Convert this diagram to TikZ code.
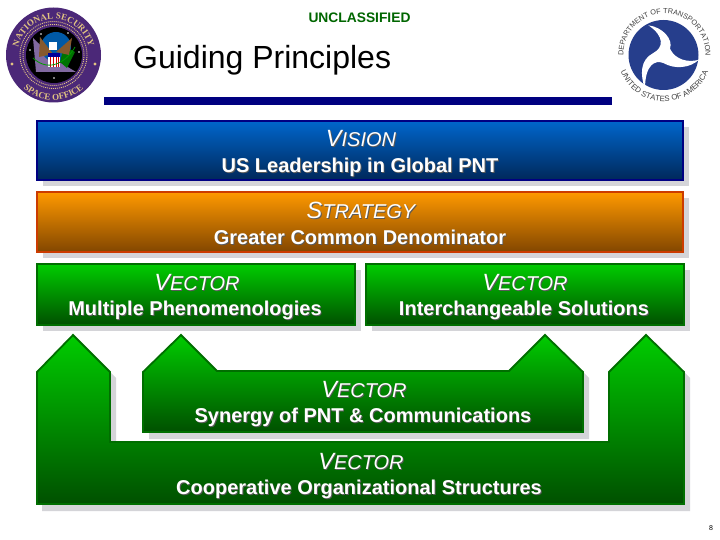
\documentclass[tikz,border=0pt]{standalone}
\usepackage{fontspec}
\setmainfont{Liberation Sans}
\newfontfamily\sealfont{Liberation Serif}
\usetikzlibrary{decorations.text}
\definecolor{bluehi}{RGB}{0,102,204}
\definecolor{bluelo}{RGB}{0,40,90}
\definecolor{blueedge}{RGB}{0,0,130}
\definecolor{orghi}{RGB}{255,153,0}
\definecolor{orglo}{RGB}{130,70,0}
\definecolor{orgedge}{RGB}{204,60,0}
\definecolor{grnhi}{RGB}{0,204,0}
\definecolor{grnlo}{RGB}{0,80,0}
\definecolor{grnedge}{RGB}{0,110,0}
\definecolor{shadowgrey}{RGB}{212,212,216}
\definecolor{barblue}{RGB}{0,0,128}
\definecolor{seal}{RGB}{75,40,120}
\definecolor{sealgold}{RGB}{225,195,130}
\definecolor{dotblue}{RGB}{38,62,140}
\newcommand{\shtxt}[1]{\leavevmode\rlap{\kern0.9pt\raisebox{-0.9pt}{\color{black!65}#1}}{\color{white}#1}}
\newcommand{\vectitle}[2]{\shtxt{\fontsize{23.5}{24}\selectfont\itshape #1\fontsize{20}{24}\selectfont #2}}
\newcommand{\vecsub}[1]{\shtxt{\fontsize{20}{22}\selectfont\bfseries #1}}
\tikzset{
  x=1pt,y=-1pt,
  bluebox/.style={top color=bluehi,bottom color=bluelo,draw=blueedge,line width=1.8pt},
  orangebox/.style={top color=orghi,bottom color=orglo,draw=orgedge,line width=1.8pt},
  greenbox/.style={top color=grnhi,bottom color=grnlo,draw=grnedge,line width=1.8pt,line join=miter},
  lab/.style={inner sep=0pt,anchor=center},
}
\begin{document}
\begin{tikzpicture}
\useasboundingbox (0,0) rectangle (720,540);
\fill[white] (0,0) rectangle (720,540);
% header
\node[lab,text=green!40!black] (cls) at (359.5,18) {\fontsize{13.8}{14}\selectfont\bfseries UNCLASSIFIED};
\node[lab,anchor=west] (title) at (133,60) {\fontsize{32}{38}\selectfont Guiding Principles};
\fill[barblue] (104,97) rectangle (612,105);
% NSSO seal
\fill[seal] (53.5,55) circle (47.5);
\draw[sealgold,line width=0.9pt,dash pattern=on 1pt off 1pt] (53.5,55) circle (33.5);
\draw[sealgold,line width=0.9pt,dash pattern=on 1pt off 1pt] (53.5,55) circle (30.5);
\fill[black] (54,55) circle (28);
\fill[seal!70!white] (33,38) -- (36,72) -- (76,72) -- (56,60) -- cycle;
\fill[teal!70!blue] (56,47) circle (15);
\fill[green!45!black] (64,46) -- (75,52) -- (67,68) -- (60,62) -- cycle;
\fill[brown!70!black] (53,54) -- (40,37) -- (39,57) -- cycle;
\fill[brown!70!black] (56,52) -- (72,38) -- (69,55) -- cycle;
\fill[white] (49,42) rectangle (57,50);
\fill[white] (48,54) rectangle (60,67);
\foreach \sx in {49.5,52.5,55.5,58} \fill[red!80!black] (\sx,56) rectangle +(1.4,11);
\fill[blue!60!black] (48,53) rectangle (60,57);
\draw[green!60!black,line width=0.8pt] (33,58) .. controls (50,74) and (68,60) .. (75,47);
\foreach \sx/\sy in {41/34,68/33,79/52,54/78,30/50} \fill[white] (\sx,\sy) circle (0.8);
\fill[sealgold] (12,64) circle (1.6);
\fill[sealgold] (95,64) circle (1.6);
\path[postaction={decorate,decoration={text along path,text align={center},
  text={|\fontsize{9}{10}\bfseries\sealfont\color{sealgold}|NATIONAL SECURITY}}}]
  (17.5,55) arc[start angle=180,end angle=360,radius=36];
\path[postaction={decorate,decoration={text along path,text align={center},
  text={|\fontsize{9}{10}\bfseries\sealfont\color{sealgold}|SPACE OFFICE}}}]
  (8.5,55) arc[start angle=180,end angle=0,radius=45];
% DOT seal
\fill[dotblue] (663.5,55) circle (35);
\fill[white] (648.3,25.3) .. controls (663.3,27.3) and (673.3,39.7) .. (670,48.7)
  .. controls (675,59.7) and (688.3,63) .. (699,59.7)
  .. controls (690,68) and (675,69.7) .. (663.3,63)
  .. controls (655,59.7) and (645,64.7) .. (645,88.7)
  .. controls (640,74.7) and (640,59.7) .. (653.3,53)
  .. controls (663.3,48) and (665,36.3) .. (648.3,25.3) -- cycle;
\path[postaction={decorate,decoration={text along path,text align={center},
  text={|\fontsize{7.3}{9}\selectfont\color{black!75}|DEPARTMENT OF TRANSPORTATION}}}]
  (623.5,54.5) arc[start angle=180,end angle=360,radius=41];
\path[postaction={decorate,decoration={text along path,text align={center},
  text={|\fontsize{7.8}{9}\selectfont\color{black!75}|UNITED STATES OF AMERICA}}}]
  (617.5,54.5) arc[start angle=180,end angle=0,radius=47];
% shadows
\fill[shadowgrey] (43,127) rectangle (689,186);
\fill[shadowgrey] (43,198) rectangle (689,258);
\fill[shadowgrey] (43,270) rectangle (361,331);
\fill[shadowgrey] (372,270) rectangle (690,331);
\fill[shadowgrey] (149,378) -- (187,340) -- (223,377) -- (515,377) -- (551,340) -- (589,378) -- (589,439) -- (149,439) -- cycle;
\fill[shadowgrey] (42,378) -- (79,340) -- (116,378) -- (116,448) -- (615,448) -- (615,378) -- (652,340) -- (690,378) -- (690,511) -- (42,511) -- cycle;
% boxes
\path[bluebox] (37,121) rectangle (683,180);
\path[orangebox] (37,192) rectangle (683,252);
\path[greenbox] (37,264) rectangle (355,325);
\path[greenbox] (366,264) rectangle (684,325);
\path[greenbox] (37,372) -- (73,335) -- (110,372) -- (110,442) -- (609,442) -- (609,372) -- (646,335) -- (684,372) -- (684,504) -- (37,504) -- cycle;
\path[greenbox] (143,372) -- (181,335) -- (217,371) -- (509,371) -- (545,335) -- (583,372) -- (583,432) -- (143,432) -- cycle;
% labels
\node[lab] (t1) at (361,139) {\vectitle{V}{ISION}};
\node[lab] (s1) at (360,167.5) {\vecsub{US Leadership in Global PNT}};
\node[lab] (t2) at (361,211) {\vectitle{S}{TRATEGY}};
\node[lab] (s2) at (360,237.5) {\vecsub{Greater Common Denominator}};
\node[lab] (t3) at (197,283) {\vectitle{V}{ECTOR}};
\node[lab] (s3) at (195,311) {\vecsub{Multiple Phenomenologies}};
\node[lab] (t4) at (525,283) {\vectitle{V}{ECTOR}};
\node[lab] (s4) at (524,311) {\vecsub{Interchangeable Solutions}};
\node[lab] (t5) at (364,390) {\vectitle{V}{ECTOR}};
\node[lab] (s5) at (363,418) {\vecsub{Synergy of PNT \& Communications}};
\node[lab] (t6) at (361,462) {\vectitle{V}{ECTOR}};
\node[lab] (s6) at (359,490) {\vecsub{Cooperative Organizational Structures}};
\node[lab] (pg) at (711,528) {\fontsize{7}{8}\selectfont 8};
\end{tikzpicture}
\end{document}
